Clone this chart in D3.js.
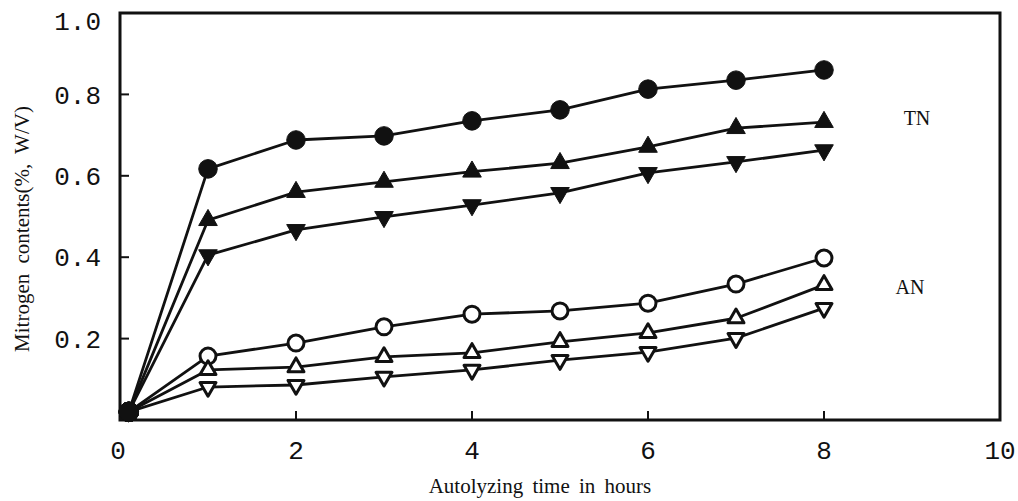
<!DOCTYPE html>
<html>
<head>
<meta charset="utf-8">
<script src="https://cdn.jsdelivr.net/npm/d3@7"></script>
<style>
  html, body { margin: 0; padding: 0; background: #fff; }
  svg { display: block; }
</style>
</head>
<body>
<svg id="chart" width="1018" height="501"></svg>
<script>
// Sampling times (hours)
const times = [0.1, 1, 2, 3, 4, 5, 6, 7, 8];

// Total nitrogen (TN) series
const tnCircle = [0.02, 0.617, 0.688, 0.698, 0.735, 0.762, 0.813, 0.835, 0.86];
const tnUp     = [0.02, 0.491, 0.56, 0.585, 0.61, 0.631, 0.671, 0.717, 0.732];
const tnDown   = [0.02, 0.405, 0.467, 0.499, 0.528, 0.558, 0.607, 0.634, 0.663];

// Amino nitrogen (AN) series
const anCircle = [0.02, 0.157, 0.189, 0.229, 0.26, 0.268, 0.287, 0.334, 0.398];
const anUp     = [0.02, 0.123, 0.13, 0.155, 0.165, 0.192, 0.214, 0.25, 0.332];
const anDown   = [0.02, 0.081, 0.086, 0.106, 0.123, 0.147, 0.167, 0.201, 0.275];

const xTicks = [0, 2, 4, 6, 8, 10];
const yTicks = [0.2, 0.4, 0.6, 0.8, 1.0];
const groupLabels = ["TN", "AN"];
const xTitle = "Autolyzing time in hours";
const yTitle = "Mitrogen contents(%, W/V)";

const series = [
  { values: tnCircle, shape: "circle", filled: true },
  { values: tnUp,     shape: "up",     filled: true },
  { values: tnDown,   shape: "down",   filled: true },
  { values: anCircle, shape: "circle", filled: false },
  { values: anUp,     shape: "up",     filled: false },
  { values: anDown,   shape: "down",   filled: false }
];

const svg = d3.select("#chart");
const plotLeft = 120, plotRight = 1000, plotTop = 13, plotBottom = 420;

const x = d3.scaleLinear().domain([0, 10]).range([plotLeft, plotRight]);
const y = d3.scaleLinear().domain([0, 1]).range([plotBottom, plotTop]);

const ink = "#111";

// Frame
svg.append("path")
  .attr("d", `M${x(0)},${y(1)}H${x(10)}V${y(0)}H${x(0)}Z`)
  .attr("fill", "none")
  .attr("stroke", ink)
  .attr("stroke-width", 3);

// Inward tick marks
svg.selectAll(".ytick").data(yTicks.filter(v => v < 1)).join("line")
  .attr("class", "ytick")
  .attr("x1", x(0)).attr("x2", x(0) + 9)
  .attr("y1", d => y(d)).attr("y2", d => y(d))
  .attr("stroke", ink).attr("stroke-width", 2);

svg.selectAll(".xtick").data(xTicks.filter(v => v > 0 && v < 10)).join("line")
  .attr("class", "xtick")
  .attr("x1", d => x(d)).attr("x2", d => x(d))
  .attr("y1", y(0)).attr("y2", y(0) - 9)
  .attr("stroke", ink).attr("stroke-width", 2);

// Tick labels (typewriter face)
svg.selectAll(".ylab").data(yTicks).join("text")
  .attr("class", "ylab")
  .attr("x", 101)
  .attr("y", d => Math.max(y(d), 21))
  .attr("dy", "0.35em")
  .attr("text-anchor", "end")
  .attr("font-family", "'Liberation Mono', 'Courier New', monospace")
  .attr("font-size", 26)
  .attr("fill", ink)
  .text(d => d.toFixed(1));

svg.selectAll(".xlab").data(xTicks).join("text")
  .attr("class", "xlab")
  .attr("x", d => x(d) - (d === 0 ? 2 : 0))
  .attr("y", 450)
  .attr("dy", "0.35em")
  .attr("text-anchor", "middle")
  .attr("font-family", "'Liberation Mono', 'Courier New', monospace")
  .attr("font-size", 26)
  .attr("fill", ink)
  .text(d => d);

// Axis titles
svg.append("text")
  .attr("x", 540).attr("y", 486)
  .attr("dy", "0.35em")
  .attr("text-anchor", "middle")
  .attr("font-family", "'Liberation Serif', 'Times New Roman', serif")
  .attr("font-size", 21)
  .attr("word-spacing", 4)
  .attr("fill", ink)
  .text(xTitle);

svg.append("text")
  .attr("transform", "translate(22,229) rotate(-90)")
  .attr("dy", "0.35em")
  .attr("text-anchor", "middle")
  .attr("font-family", "'Liberation Serif', 'Times New Roman', serif")
  .attr("font-size", 21)
  .attr("word-spacing", 5)
  .attr("fill", ink)
  .text(yTitle);

// Series lines
const line = d3.line().x((d, i) => x(times[i])).y(d => y(d));
svg.selectAll(".series").data(series).join("path")
  .attr("class", "series")
  .attr("d", s => line(s.values))
  .attr("fill", "none")
  .attr("stroke", ink)
  .attr("stroke-width", 2.8)
  .attr("stroke-linejoin", "round");

// Markers
const circleSym = d3.symbol().type(d3.symbolCircle);
const triSym = d3.symbol().type(d3.symbolTriangle);

series.forEach(s => {
  const pts = s.values.map((v, i) => ({ t: times[i], v, i }));
  const g = svg.append("g");
  g.selectAll("path").data(pts).join("path")
    .attr("transform", d => {
      const r = s.shape === "down" ? " rotate(180)" : "";
      return `translate(${x(d.t)},${y(d.v)})${d.i === 0 ? "" : r}`;
    })
    .attr("d", d => {
      if (d.i === 0) return circleSym.size(300)();
      if (s.shape === "circle") return circleSym.size(s.filled ? 270 : 200)();
      return triSym.size(s.filled ? 150 : 110)();
    })
    .attr("fill", d => (d.i === 0 || s.filled) ? ink : "#fff")
    .attr("stroke", ink)
    .attr("stroke-width", d => (d.i === 0 || s.filled) ? 1 : 3)
    .attr("stroke-linejoin", "round");
});

// Group labels
svg.append("text")
  .attr("x", 917).attr("y", 118).attr("dy", "0.35em")
  .attr("text-anchor", "middle")
  .attr("font-family", "'Liberation Serif', 'Times New Roman', serif")
  .attr("font-size", 20)
  .attr("fill", ink)
  .text(groupLabels[0]);

svg.append("text")
  .attr("x", 910).attr("y", 287).attr("dy", "0.35em")
  .attr("text-anchor", "middle")
  .attr("font-family", "'Liberation Serif', 'Times New Roman', serif")
  .attr("font-size", 20)
  .attr("fill", ink)
  .text(groupLabels[1]);
</script>
</body>
</html>
